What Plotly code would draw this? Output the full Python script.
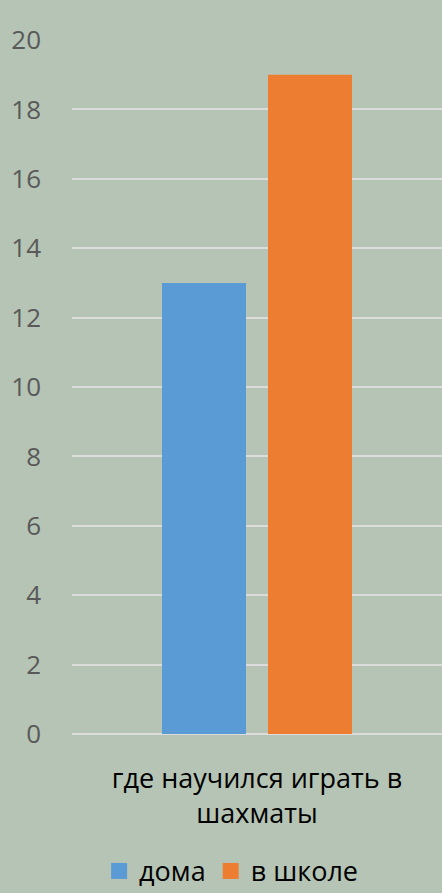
import plotly.graph_objects as go

categories = ["где научился играть в<br>шахматы"]
series_names = ["дома", "в школе"]
values_home = [13]
values_school = [19]
colors = ["#5b9bd5", "#ed7d31"]
y_ticks = [0, 2, 4, 6, 8, 10, 12, 14, 16, 18, 20]

fig = go.Figure()
fig.add_trace(go.Bar(x=categories, y=values_home, name=series_names[0],
                     marker=dict(color=colors[0], line=dict(width=0)), showlegend=False))
fig.add_trace(go.Bar(x=categories, y=values_school, name=series_names[1],
                     marker=dict(color=colors[1], line=dict(width=0)), showlegend=False))
# legend entries (square swatches)
for name, col in zip(series_names, colors):
    fig.add_trace(go.Scatter(x=[None], y=[None], mode="markers", name=name,
                             marker=dict(symbol="square", size=18, color=col)))

fig.update_layout(
    width=442, height=893,
    margin=dict(l=72, r=0, t=40, b=159, autoexpand=False),
    paper_bgcolor="#b5c4b4", plot_bgcolor="#b5c4b4",
    barmode="group", bargap=0.427, bargroupgap=0.2075,
    font=dict(family="Open Sans, Noto Sans, sans-serif", size=27, color="#595959"),
    showlegend=True,
    legend=dict(orientation="h", x=0.43, xanchor="center", y=-0.198, yanchor="middle",
                font=dict(size=27, color="#000000"), bgcolor="rgba(0,0,0,0)",
                itemwidth=30, tracegroupgap=0),
    xaxis=dict(showgrid=False, zeroline=False, showline=False, automargin=False,
               tickfont=dict(size=27, color="#000000"), ticklabelstandoff=26),
    yaxis=dict(range=[0, 20], tickvals=y_ticks, showgrid=True, gridcolor="#dcdcdc", gridwidth=1.5,
               zeroline=True, zerolinecolor="#dcdcdc", zerolinewidth=1.5, automargin=False,
               tickfont=dict(size=26, color="#595959"), ticklabelstandoff=30),
)

fig.write_html("out.html", config={"displayModeBar": False},
               post_script="document.body.style.margin='0';document.body.style.overflow='hidden';")
